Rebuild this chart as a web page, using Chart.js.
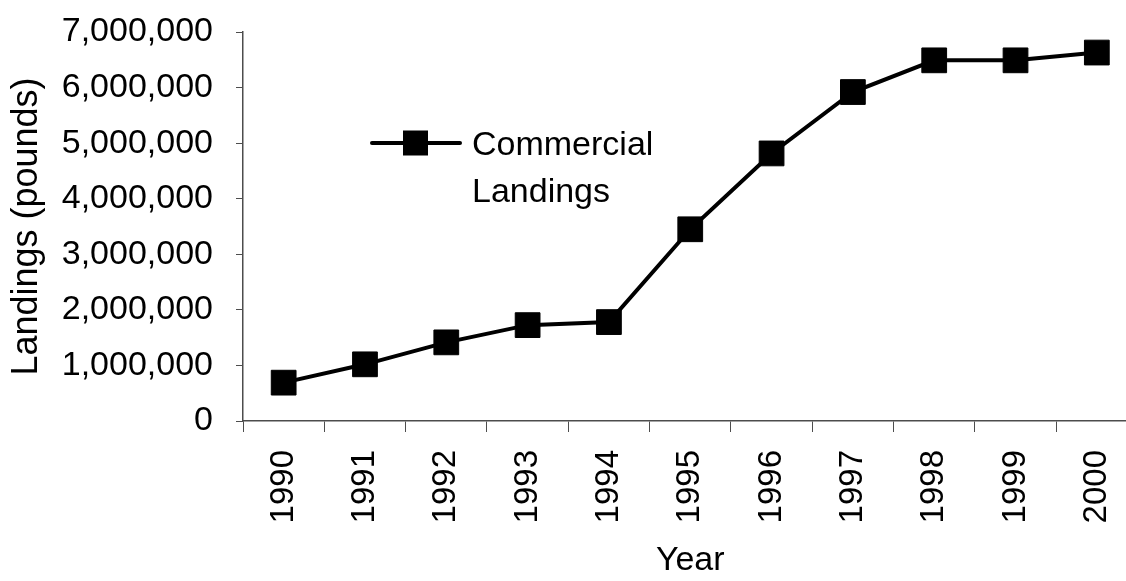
<!DOCTYPE html>
<html>
<head>
<meta charset="utf-8">
<script src="https://cdn.jsdelivr.net/npm/chart.js@4/dist/chart.umd.min.js"></script>
<style>
  html, body { margin: 0; padding: 0; background: #fff; overflow: hidden; }
  #wrap { width: 1156px; height: 581px; }
</style>
</head>
<body>
<div id="wrap"><canvas id="landings-chart" width="1156" height="581"></canvas></div>
<script>
const years = ["1990", "1991", "1992", "1993", "1994", "1995", "1996", "1997", "1998", "1999", "2000"];
const landings = [690000, 1020000, 1415000, 1725000, 1780000, 3450000, 4815000, 5920000, 6490000, 6490000, 6630000];
const seriesName = ["Commercial", "Landings"];
const yTitle = "Landings (pounds)";
const xTitle = "Year";

const font = "'Liberation Sans', Arial, sans-serif";
const axisColor = "#4d4d4d";

// legend sits inside the plot, text on two lines
const legendBox = {
  id: "legendBox",
  afterDraw(chart) {
    const ctx = chart.ctx;
    const area = chart.chartArea;
    const x = area.left + 129;
    const y = area.top + 111;
    ctx.save();
    ctx.strokeStyle = "#000";
    ctx.lineWidth = 4;
    ctx.lineCap = "round";
    ctx.beginPath();
    ctx.moveTo(x, y);
    ctx.lineTo(x + 88, y);
    ctx.stroke();
    ctx.fillStyle = "#000";
    ctx.fillRect(x + 31, y - 12.5, 25, 25);
    ctx.font = "34px " + font;
    ctx.textBaseline = "middle";
    ctx.fillText(seriesName[0], x + 100, y + 3);
    ctx.fillText(seriesName[1], x + 100, y + 50);
    ctx.restore();
  },
};

const chart = new Chart(document.getElementById("landings-chart").getContext("2d"), {
  type: "line",
  data: {
    labels: years,
    datasets: [
      {
        label: seriesName.join(" "),
        data: landings,
        borderColor: "#000",
        backgroundColor: "#000",
        borderWidth: 4,
        tension: 0,
        pointStyle: "rect",
        pointRadius: 17.5,
        pointHoverRadius: 17.5,
        pointBorderWidth: 1,
        pointBackgroundColor: "#000",
        pointBorderColor: "#000",
      },
    ],
  },
  options: {
    responsive: false,
    animation: false,
    layout: { padding: { top: 32, right: 4, left: 0, bottom: 0 } },
    plugins: {
      legend: { display: false },
      tooltip: { enabled: false },
    },
    scales: {
      x: {
        offset: true,
        grid: {
          offset: true,
          drawOnChartArea: false,
          drawTicks: true,
          tickLength: 11,
          color: axisColor,
        },
        border: { color: axisColor, width: 1.5 },
        ticks: {
          minRotation: 90,
          maxRotation: 90,
          padding: 18,
          color: "#000",
          font: { family: font, size: 33 },
        },
        title: {
          display: true,
          text: xTitle,
          color: "#000",
          font: { family: font, size: 34 },
          padding: { top: 0, bottom: 0 },
        },
        afterFit(scale) {
          scale.height = 160;
        },
      },
      y: {
        min: 0,
        max: 7000000,
        grid: {
          drawOnChartArea: false,
          drawTicks: true,
          tickLength: 7,
          color: axisColor,
        },
        border: { color: axisColor, width: 1.5 },
        ticks: {
          stepSize: 1000000,
          padding: 23,
          color: "#000",
          font: { family: font, size: 34 },
          callback: (v) => v.toLocaleString("en-US"),
        },
        title: {
          display: true,
          text: yTitle,
          color: "#000",
          font: { family: font, size: 36 },
          padding: { top: 5, bottom: 0 },
        },
        afterFit(scale) {
          scale.width = 243;
          scale.paddingTop = 0;
          scale.paddingBottom = 0;
        },
      },
    },
  },
  plugins: [legendBox],
});
</script>
</body>
</html>
